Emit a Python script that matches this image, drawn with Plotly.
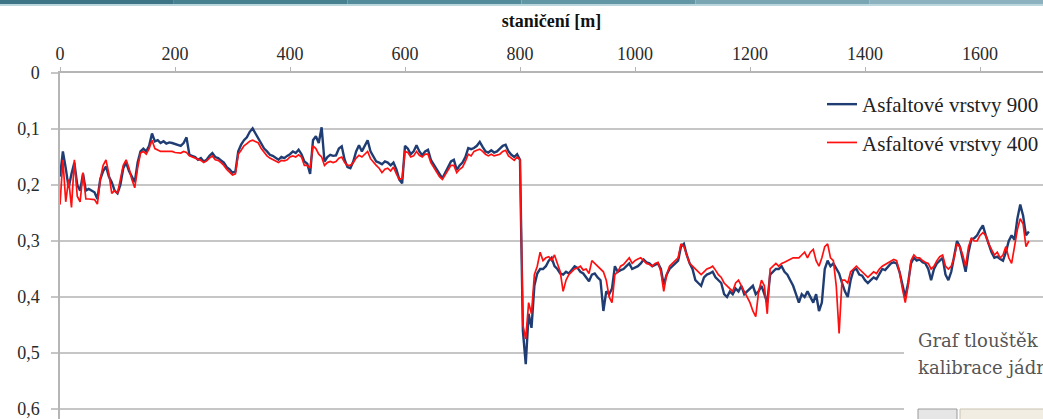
import plotly.graph_objects as go

# staničení [m] – measuring points every 5 m
stationing = list(range(0, 1690, 5))

# thickness of asphalt layers, antenna 900 MHz
asfalt_900 = [
    0.185, 0.14, 0.17, 0.205, 0.18, 0.16, 0.2, 0.21, 0.18, 0.21, 0.207, 0.21, 0.213, 0.225, 0.19, 0.175, 0.167, 0.185, 0.195, 0.21,
    0.215, 0.2, 0.17, 0.16, 0.175, 0.185, 0.195, 0.16, 0.14, 0.135, 0.14, 0.13, 0.108, 0.122, 0.12, 0.125, 0.122, 0.126, 0.124, 0.125,
    0.127, 0.128, 0.13, 0.125, 0.115, 0.146, 0.148, 0.15, 0.155, 0.152, 0.158, 0.155, 0.148, 0.143, 0.15, 0.152, 0.156, 0.16, 0.168, 0.172,
    0.178, 0.176, 0.14, 0.128, 0.12, 0.115, 0.105, 0.099, 0.108, 0.117, 0.125, 0.135, 0.14, 0.146, 0.148, 0.152, 0.155, 0.15, 0.152, 0.148,
    0.145, 0.14, 0.143, 0.137, 0.145, 0.158, 0.162, 0.18, 0.12, 0.113, 0.125, 0.097, 0.158, 0.15, 0.146, 0.148, 0.147, 0.135, 0.131, 0.155,
    0.168, 0.17, 0.158, 0.14, 0.129, 0.14, 0.13, 0.12, 0.14, 0.15, 0.158, 0.16, 0.163, 0.158, 0.16, 0.165, 0.16, 0.172, 0.19, 0.197,
    0.13, 0.135, 0.145, 0.14, 0.129, 0.14, 0.147, 0.14, 0.137, 0.155, 0.164, 0.172, 0.18, 0.188, 0.178, 0.17, 0.158, 0.155, 0.173, 0.165,
    0.16, 0.15, 0.134, 0.136, 0.134, 0.13, 0.123, 0.132, 0.14, 0.142, 0.138, 0.142, 0.14, 0.135, 0.13, 0.128, 0.14, 0.146, 0.15, 0.145,
    0.155, 0.46, 0.52, 0.43, 0.455, 0.38, 0.358, 0.35, 0.35, 0.345, 0.335, 0.33, 0.345, 0.35, 0.358, 0.36, 0.355, 0.358, 0.352, 0.345,
    0.348, 0.355, 0.358, 0.365, 0.372, 0.36, 0.358, 0.365, 0.37, 0.425, 0.39, 0.395, 0.385, 0.345, 0.355, 0.352, 0.35, 0.345, 0.34, 0.35,
    0.348, 0.345, 0.34, 0.333, 0.338, 0.34, 0.345, 0.343, 0.34, 0.35, 0.378, 0.36, 0.35, 0.345, 0.34, 0.335, 0.31, 0.305, 0.325, 0.34,
    0.35, 0.37, 0.375, 0.38, 0.365, 0.36, 0.358, 0.355, 0.365, 0.37, 0.375, 0.395, 0.4, 0.39, 0.395, 0.385, 0.39, 0.38, 0.395, 0.39,
    0.385, 0.38, 0.395, 0.39, 0.38, 0.395, 0.41, 0.36, 0.355, 0.35, 0.35, 0.345, 0.355, 0.36, 0.37, 0.38, 0.395, 0.41, 0.395, 0.4,
    0.39, 0.4, 0.41, 0.395, 0.425, 0.41, 0.35, 0.335, 0.345, 0.34, 0.35, 0.358, 0.375, 0.39, 0.4, 0.37, 0.352, 0.35, 0.36, 0.362,
    0.37, 0.375, 0.37, 0.365, 0.368, 0.358, 0.35, 0.352, 0.345, 0.34, 0.338, 0.34, 0.355, 0.38, 0.4, 0.375, 0.34, 0.33, 0.335, 0.333,
    0.338, 0.34, 0.35, 0.37, 0.35, 0.34, 0.335, 0.33, 0.36, 0.37, 0.355, 0.33, 0.3, 0.31, 0.33, 0.355, 0.32, 0.297, 0.295, 0.29,
    0.28, 0.272, 0.29, 0.305, 0.32, 0.33, 0.328, 0.332, 0.335, 0.32, 0.3, 0.29, 0.298, 0.26, 0.235, 0.255, 0.29, 0.283,
]

# thickness of asphalt layers, antenna 400 MHz
asfalt_400 = [
    0.235, 0.155, 0.23, 0.19, 0.24, 0.155, 0.22, 0.23, 0.178, 0.225, 0.225, 0.226, 0.226, 0.234, 0.19, 0.165, 0.155, 0.18, 0.215, 0.21,
    0.215, 0.19, 0.165, 0.155, 0.17, 0.19, 0.205, 0.17, 0.143, 0.14, 0.145, 0.135, 0.12, 0.135, 0.138, 0.14, 0.14, 0.14, 0.141, 0.14,
    0.142, 0.142, 0.143, 0.14, 0.142, 0.148, 0.15, 0.152, 0.155, 0.156, 0.16, 0.157, 0.152, 0.148, 0.155, 0.156, 0.16, 0.165, 0.172, 0.178,
    0.182, 0.18, 0.145, 0.138, 0.13, 0.126, 0.122, 0.12, 0.122, 0.125, 0.135, 0.142, 0.148, 0.152, 0.155, 0.158, 0.16, 0.156, 0.157, 0.155,
    0.15, 0.148, 0.15, 0.146, 0.15, 0.165, 0.165, 0.17, 0.13, 0.135, 0.145, 0.15, 0.165, 0.16, 0.158, 0.16, 0.158, 0.152, 0.15, 0.16,
    0.165, 0.165, 0.16, 0.152, 0.147, 0.15, 0.145, 0.14, 0.153, 0.16, 0.165, 0.17, 0.178, 0.172, 0.17, 0.175, 0.168, 0.18, 0.19, 0.188,
    0.14, 0.142, 0.15, 0.148, 0.14, 0.147, 0.15, 0.145, 0.145, 0.16, 0.168, 0.175, 0.185, 0.19, 0.182, 0.175, 0.165, 0.165, 0.178, 0.172,
    0.168, 0.158, 0.145, 0.148, 0.14, 0.138, 0.136, 0.14, 0.145, 0.148, 0.145, 0.148, 0.146, 0.145, 0.14, 0.138, 0.148, 0.152, 0.156, 0.15,
    0.155, 0.45, 0.475, 0.41, 0.43, 0.36, 0.345, 0.32, 0.335, 0.33, 0.328, 0.335, 0.325, 0.34, 0.355, 0.39, 0.37, 0.36, 0.355, 0.35,
    0.348, 0.345, 0.352, 0.35, 0.358, 0.335, 0.34, 0.345, 0.35, 0.355, 0.37, 0.4, 0.41, 0.36, 0.355, 0.345, 0.342, 0.335, 0.33, 0.34,
    0.335, 0.332, 0.33, 0.335, 0.34, 0.342, 0.345, 0.34, 0.338, 0.355, 0.39, 0.36, 0.345, 0.34, 0.335, 0.33, 0.305, 0.31, 0.325, 0.34,
    0.345, 0.35, 0.355, 0.36, 0.355, 0.35, 0.348, 0.345, 0.352, 0.36, 0.365, 0.375, 0.38, 0.385, 0.39, 0.375, 0.37, 0.38, 0.39, 0.4,
    0.41, 0.425, 0.435, 0.39, 0.37, 0.38, 0.43, 0.35, 0.345, 0.34, 0.345, 0.34, 0.338, 0.335, 0.333, 0.33, 0.33, 0.33, 0.325, 0.32,
    0.33, 0.32, 0.315, 0.335, 0.345, 0.33, 0.31, 0.305, 0.33, 0.335, 0.38, 0.465, 0.37, 0.37, 0.375, 0.355, 0.35, 0.345, 0.35, 0.355,
    0.36, 0.365, 0.36, 0.355, 0.358, 0.35, 0.345, 0.342, 0.338, 0.335, 0.333, 0.335, 0.355, 0.385, 0.41, 0.38, 0.335, 0.325, 0.33, 0.33,
    0.335, 0.338, 0.34, 0.35, 0.345, 0.335, 0.328, 0.325, 0.345, 0.35, 0.345, 0.33, 0.305, 0.31, 0.325, 0.345, 0.31, 0.295, 0.3, 0.3,
    0.29, 0.285, 0.29, 0.305, 0.315, 0.325, 0.32, 0.33, 0.325, 0.31, 0.33, 0.34, 0.31, 0.28, 0.26, 0.27, 0.31, 0.3,
]

x_ticks = [0, 200, 400, 600, 800, 1000, 1200, 1400, 1600]
y_ticks = [0, 0.1, 0.2, 0.3, 0.4, 0.5, 0.6]
y_tick_labels = ["0", "0,1", "0,2", "0,3", "0,4", "0,5", "0,6"]

BLUE = "#1f3d73"
RED = "#ff1010"
GRID = "#c6c6c6"
SERIF = "Liberation Serif"

fig = go.Figure()
fig.add_trace(go.Scatter(
    x=stationing, y=asfalt_900, mode="lines", name="Asfaltové vrstvy 900",
    line=dict(color=BLUE, width=2.4), legendgroup="a",
))
fig.add_trace(go.Scatter(
    x=stationing, y=asfalt_400, mode="lines", name="Asfaltové vrstvy 400",
    line=dict(color=RED, width=1.7), legendgroup="b",
))

W, H = 1043, 419
L, R, T, B = 60, 0, 73, 0
plot_w = W - L - R
plot_h = H - T - B
x_max = plot_w / 0.575   # 200 m per 115 px
y_max = plot_h / 560.0   # 0,1 per 56 px

def px_x(X):
    return (X - L) / plot_w

def px_y(Y):
    return (H - B - Y) / plot_h

shapes = []
# window header strip along the top edge
strip_cols = ["#3d7586", "#47808f", "#548b9a", "#6396a5", "#7aa6b3", "#8bb2be"]
n = len(strip_cols)
for i, c in enumerate(strip_cols):
    shapes.append(dict(
        type="rect", xref="paper", yref="paper", layer="above",
        x0=px_x(i * W / n), x1=px_x((i + 1) * W / n),
        y0=px_y(4), y1=px_y(0), fillcolor=c, line=dict(width=0),
    ))
shapes.append(dict(
    type="rect", xref="paper", yref="paper", layer="above",
    x0=px_x(0), x1=px_x(W), y0=px_y(6), y1=px_y(4),
    fillcolor="#bcd6dd", line=dict(width=0),
))
# overlapping panel in the lower right corner
shapes.append(dict(
    type="rect", xref="paper", yref="paper", layer="above",
    x0=px_x(904), x1=px_x(W + 2), y0=px_y(H + 2), y1=px_y(312),
    fillcolor="white", line=dict(width=0),
))
shapes.append(dict(
    type="rect", xref="paper", yref="paper", layer="above",
    x0=px_x(918), x1=px_x(957), y0=px_y(H + 2), y1=px_y(409),
    fillcolor="#e6e6e6", line=dict(color="#9a9a9a", width=1),
))
shapes.append(dict(
    type="rect", xref="paper", yref="paper", layer="above",
    x0=px_x(960), x1=px_x(W + 2), y0=px_y(H + 2), y1=px_y(409),
    fillcolor="#f1ede2", line=dict(color="#c9c3b0", width=1),
))

annotations = [
    dict(text="Graf tlouštěk", xref="paper", yref="paper", x=px_x(916), y=px_y(340),
         xanchor="left", yanchor="middle", showarrow=False,
         font=dict(family="DejaVu Serif", size=18, color="#555555")),
    dict(text="kalibrace jádr", xref="paper", yref="paper", x=px_x(916), y=px_y(367),
         xanchor="left", yanchor="middle", showarrow=False,
         font=dict(family="DejaVu Serif", size=18, color="#555555")),
]

fig.update_layout(
    width=W, height=H,
    margin=dict(l=L, r=R, t=T, b=B, autoexpand=False),
    paper_bgcolor="white", plot_bgcolor="white",
    showlegend=True,
    legend=dict(
        x=px_x(822), y=px_y(84), xanchor="left", yanchor="top",
        bgcolor="rgba(0,0,0,0)", borderwidth=0, tracegroupgap=8,
        font=dict(family=SERIF, size=21, color="#222222"),
    ),
    shapes=shapes,
    annotations=annotations,
)

fig.update_xaxes(
    side="top", range=[0, x_max], tickvals=x_ticks,
    showgrid=False, zeroline=False,
    showline=True, linecolor="#b5b5b5", linewidth=1.5,
    ticks="outside", ticklen=4, tickcolor="#b5b5b5", tickwidth=1,
    tickfont=dict(family=SERIF, size=18, color="#2a2a2a"),
    title=dict(text="staničení [m]", standoff=12,
               font=dict(family="Liberation Sans Narrow", size=18, color="#111111", weight="bold")),
)
fig.update_yaxes(
    range=[y_max, 0], tickvals=y_ticks, ticktext=y_tick_labels,
    tickmode="array", ticklabeloverflow="allow",
    showgrid=True, gridcolor=GRID, gridwidth=1.6, zeroline=False,
    showline=True, linecolor="#b5b5b5", linewidth=1.5,
    ticks="outside", ticklen=7, tickcolor=GRID, tickwidth=1.5,
    ticklabelstandoff=8,
    tickfont=dict(family=SERIF, size=18, color="#2a2a2a"),
)

fig.write_html("out.html")
